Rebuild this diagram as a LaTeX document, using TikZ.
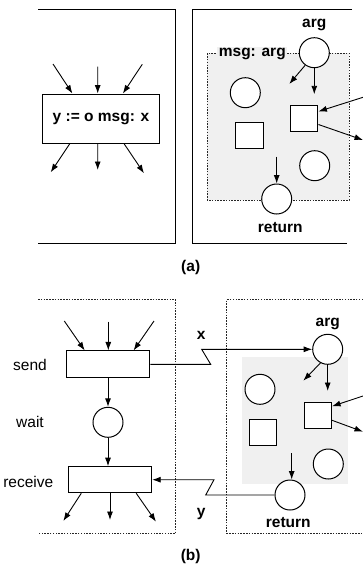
\documentclass[tikz,border=0pt]{standalone}
\usepackage{fontspec}
\setmainfont{Liberation Sans}
\usetikzlibrary{arrows.meta,calc}
\definecolor{boxgray}{gray}{0.94}
\begin{document}
\begin{tikzpicture}[x=1pt,y=-1pt,
  every node/.style={font=\fontsize{15.5}{18}\selectfont},
  lbl/.style={font=\fontsize{15.5}{18}\selectfont\bfseries, inner sep=0pt},
  txt/.style={inner sep=0pt},
  arr/.style={-{Latex[length=8.5pt,width=6pt]}, line width=0.9pt},
  op/.style={draw, rectangle, line width=1pt, inner sep=0pt, fill=white},
  place/.style={draw, circle, line width=1pt, minimum size=30pt, inner sep=0pt, fill=white},
  cell/.style={draw, rectangle, line width=1pt, minimum width=27.5pt, minimum height=26pt, inner sep=0pt, fill=white},
  frame/.style={line width=1pt},
  dotframe/.style={line width=1pt, dash pattern=on 1.5pt off 1.3pt, draw=black!85},
]
\useasboundingbox (0,0) rectangle (363,576);

% ---------- (a) ----------
\draw[frame] (38,9.7) -- (175.7,9.7) -- (175.7,243) -- (38,243);
\draw[frame] (352,9.7) -- (192.5,9.7) -- (192.5,243) -- (347,243);

\node[op, minimum width=116.6pt, minimum height=49.3pt,
      font=\fontsize{15.5}{18}\selectfont\bfseries] (ybox) at (101,118.7) {y := o msg: x};

\coordinate (ai1) at (53,64);
\coordinate (ai2) at (97.7,66.7);
\coordinate (ai3) at (142.3,64.3);
\coordinate (ao1) at (50.7,172.3);
\coordinate (ao2) at (97.7,170);
\coordinate (ao3) at (144,173.3);
\draw[arr] (ai1) -- ($(ybox.north west)!0.257!(ybox.north east)$);
\draw[arr] (ai2) -- ($(ybox.north west)!0.472!(ybox.north east)$);
\draw[arr] (ai3) -- ($(ybox.north west)!0.686!(ybox.north east)$);
\draw[arr] ($(ybox.south west)!0.234!(ybox.south east)$) -- (ao1);
\draw[arr] ($(ybox.south west)!0.472!(ybox.south east)$) -- (ao2);
\draw[arr] ($(ybox.south west)!0.697!(ybox.south east)$) -- (ao3);

\path[fill=boxgray, dotframe] (207.3,53.3) rectangle (349,200);
\node[lbl, fill=boxgray, inner xsep=1.5pt, inner ysep=1pt] (msgA) at (252.3,54.3) {msg: arg};

\node[place] (argA) at (314.3,52.7) {};
\node[lbl] (argAl) at (314.3,25) {arg};
\node[place] (cA1) at (245.3,92.7) {};
\node[cell] (sA1) at (249.5,135.3) {};
\node[cell] (sA2) at (304.2,118.3) {};
\node[place] (cA2) at (314.7,165.7) {};
\node[place] (retA) at (276.7,199) {};
\node[lbl] (retAl) at (280.3,227.3) {return};

\coordinate (fA1) at (289.3,84);
\coordinate (fA2) at (314.3,94.3);
\coordinate (fA3) at (363,97.3);
\coordinate (fA4) at (363,140);
\coordinate (fA5) at (276.7,156.7);
\draw[arr] (argA.234) -- (fA1);
\draw[arr] (argA.south) -- (fA2);
\draw[arr] (fA3) -- ($(sA2.north east)!0.246!(sA2.south east)$);
\draw[arr] ($(sA2.north east)!0.73!(sA2.south east)$) -- (fA4);
\draw[arr] (fA5) -- (retA.north);

\node[lbl] (capA) at (190.7,267.7) {(a)};

% ---------- (b) ----------
\draw[dotframe] (38,299.7) -- (175.7,299.7) -- (175.7,533.3) -- (38,533.3);
\draw[dotframe] (363,299.7) -- (226.7,299.7) -- (226.7,533.3) -- (363,533.3);

\node[op, minimum width=83.3pt, minimum height=26.7pt] (send) at (108.3,364.3) {};
\node[place] (wait) at (108,422.3) {};
\node[op, minimum width=83.4pt, minimum height=26pt] (recv) at (110,479.7) {};
\node[txt] (sendl) at (30,365) {send};
\node[txt] (waitl) at (30,421.7) {wait};
\node[txt] (recvl) at (28.3,481.7) {receive};

\coordinate (bi1) at (64.3,321);
\coordinate (bi2) at (108.3,321.7);
\coordinate (bi3) at (154,321);
\coordinate (bo1) at (63.3,521);
\coordinate (bo2) at (110,520);
\coordinate (bo3) at (156,521.7);
\draw[arr] (bi1) -- ($(send.north west)!0.22!(send.north east)$);
\draw[arr] (bi2) -- (send.north);
\draw[arr] (bi3) -- ($(send.north west)!0.8!(send.north east)$);
\draw[arr] (send.south -| wait.north) -- (wait.north);
\draw[arr] (wait.south) -- (wait.south |- recv.north);
\draw[arr] ($(recv.south west)!0.16!(recv.south east)$) -- (bo1);
\draw[arr] (recv.south) -- (bo2);
\draw[arr] ($(recv.south west)!0.81!(recv.south east)$) -- (bo3);

\fill[boxgray] (242.3,356.7) rectangle (347.7,484);
\node[place] (argB) at (327.7,349.3) {};
\node[lbl] (argBl) at (327.7,324.3) {arg};
\node[place] (cB1) at (260,389.3) {};
\node[cell] (sB1) at (263,432.5) {};
\node[cell] (sB2) at (317.8,415.7) {};
\node[place] (cB2) at (328.3,464) {};
\node[place] (retB) at (290,495) {};
\node[lbl] (retBl) at (288.3,522.7) {return};

\coordinate (fB1) at (303.3,380.7);
\coordinate (fB2) at (329,391);
\coordinate (fB3) at (363,396);
\coordinate (fB4) at (363,431.7);
\coordinate (fB5) at (291.7,453.3);
\draw[arr] (argB.242) -- (fB1);
\draw[arr] (argB.south) -- (fB2 -| argB.south);
\draw[arr] (fB3) -- ($(sB2.north east)!0.15!(sB2.south east)$);
\draw[arr] ($(sB2.north east)!0.67!(sB2.south east)$) -- (fB4);
\draw[arr] (fB5) -- (fB5 |- retB.north);

% message send (x) and reply (y)
\coordinate (kx1) at (210.7,364.3);
\coordinate (kx2) at (201.7,349.3);
\draw[arr] (send.east) -- (kx1) -- (kx2) -- (argB.west);
\node[lbl] (xl) at (201.3,335.7) {x};

\coordinate (ky1) at (205.7,495);
\coordinate (ky2) at (214,479.7);
\draw[arr] (retB.west) -- (ky1) -- (ky2) -- (recv.east);
\node[lbl] (yl) at (201.3,514) {y};

\node[lbl] (capB) at (190.7,556.7) {(b)};
\end{tikzpicture}
\end{document}
